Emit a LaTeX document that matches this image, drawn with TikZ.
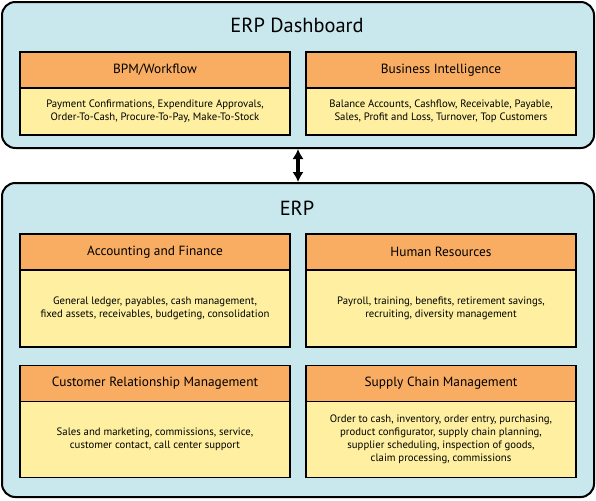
\documentclass[tikz,border=0pt]{standalone}
\usepackage{fontspec}
\setmainfont{PT Sans}
\usetikzlibrary{positioning, arrows.meta}
\definecolor{paneblue}{RGB}{200,232,238}
\definecolor{headorange}{RGB}{248,173,98}
\definecolor{bodyyellow}{RGB}{254,240,160}

\begin{document}
\begin{tikzpicture}[x=0.75pt,y=0.75pt,yscale=-1,xscale=1,
  pane/.style={draw=black, line width=1.5pt, rounded corners=10pt, fill=paneblue, minimum width=444pt, inner sep=0pt},
  head/.style={draw=black, line width=0.9pt, fill=headorange, minimum width=202.5pt, minimum height=27pt, inner sep=0pt, outer sep=0pt, font=\fontsize{10}{12}\selectfont},
  body/.style={draw=black, line width=0.9pt, fill=bodyyellow, minimum width=202.5pt, inner sep=0pt, outer sep=0pt, align=center, font=\fontsize{8.05}{9.75}\selectfont},
  title/.style={font=\fontsize{15.3}{17}\selectfont},
  link/.style={{Latex[length=7.5pt,width=8.5pt]}-{Latex[length=7.5pt,width=8.5pt]}, line width=2.8pt}]

\useasboundingbox (0,0) rectangle (596,500);

% Dashboard pane
\node [pane, minimum height=109.5pt] (dash) at (298,75) {};
\node [title] (dashtitle) at (297,25) {ERP Dashboard};

\node [head] (bpm) at (155,70) {BPM/Workflow};
\node [body, minimum height=35.25pt, below=0pt of bpm] (bpmtext) {Payment Confirmations, Expenditure Approvals,\\Order-To-Cash, Procure-To-Pay, Make-To-Stock};

\node [head] (bi) at (441,70) {Business Intelligence};
\node [body, minimum height=35.25pt, below=0pt of bi] (bitext) {Balance Accounts, Cashflow, Receivable, Payable,\\Sales, Profit and Loss, Turnover, Top Customers};

% ERP pane
\node [pane, minimum height=235.5pt] (erp) at (298,340) {};
\node [title] (erptitle) at (297,208) {ERP};

\node [head] (acc) at (155,252) {Accounting and Finance};
\node [body, minimum height=57.75pt, below=0pt of acc] (acctext) {General ledger, payables, cash management,\\fixed assets, receivables, budgeting, consolidation};

\node [head] (hr) at (441,252) {Human Resources};
\node [body, minimum height=57.75pt, below=0pt of hr] (hrtext) {Payroll, training, benefits, retirement savings,\\recruiting, diversity management};

\node [head] (crm) at (155,383.5) {Customer Relationship Management};
\node [body, minimum height=57pt, below=0pt of crm] (crmtext) {Sales and marketing, commissions, service,\\customer contact, call center support};

\node [head] (scm) at (441,383.5) {Supply Chain Management};
\node [body, minimum height=57pt, below=0pt of scm] (scmtext) {Order to cash, inventory, order entry, purchasing,\\product configurator, supply chain planning,\\supplier scheduling, inspection of goods,\\claim processing, commissions};

% link between panes
\draw [link] (dash.south) -- (erp.north);

\end{tikzpicture}
\end{document}
